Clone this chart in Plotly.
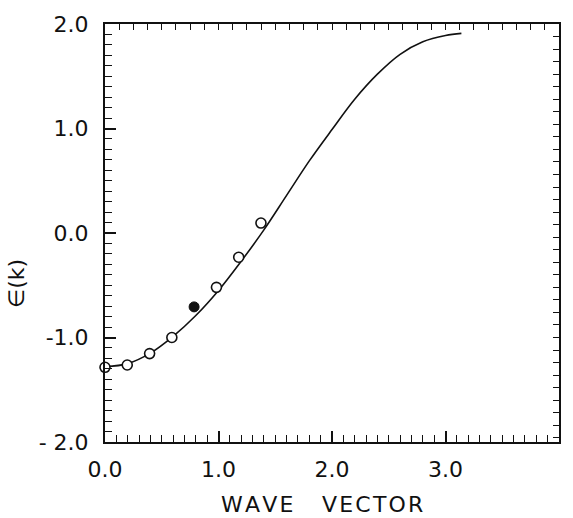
import plotly.graph_objects as go

# Data
curve_k = [0.0, 0.2, 0.4, 0.6, 0.8, 1.0, 1.2, 1.4, 1.6, 1.8, 2.0, 2.2, 2.4, 2.6, 2.8, 3.0, 3.14]
curve_e = [-1.28, -1.25, -1.15, -0.99, -0.79, -0.55, -0.27, 0.03, 0.36, 0.69, 0.99, 1.28, 1.52, 1.71, 1.83, 1.89, 1.91]

open_k = [0.0, 0.196, 0.393, 0.589, 0.982, 1.178, 1.374]
open_e = [-1.285, -1.263, -1.154, -1.0, -0.52, -0.232, 0.095]

filled_k = [0.785]
filled_e = [-0.707]

x_tickvals = [0, 1, 2, 3, 4]
x_ticktext = ["0.0", "1.0", "2.0", "3.0", "4.0"]
y_tickvals = [-2, -1, 0, 1, 2]
y_ticktext = ["- 2.0", "-1.0", "0.0", "1.0", "2.0"]

INK = "#111111"
FONT = "DejaVu Sans"

fig = go.Figure()
fig.add_trace(go.Scatter(x=curve_k, y=curve_e, mode="lines",
                         line=dict(color=INK, width=1.6, shape="spline", smoothing=1.0),
                         showlegend=False, hoverinfo="skip"))
fig.add_trace(go.Scatter(x=open_k, y=open_e, mode="markers",
                         marker=dict(symbol="circle", size=10, color="white",
                                     line=dict(color=INK, width=1.6)),
                         cliponaxis=False, showlegend=False))
fig.add_trace(go.Scatter(x=filled_k, y=filled_e, mode="markers",
                         marker=dict(symbol="circle", size=10, color=INK,
                                     line=dict(color=INK, width=1)),
                         cliponaxis=False, showlegend=False))
# dummy trace to activate top/right tick axes
fig.add_trace(go.Scatter(x=[None], y=[None], xaxis="x2", yaxis="y2",
                         showlegend=False, hoverinfo="skip"))

fig.update_layout(
    width=573, height=518,
    margin=dict(l=105, r=14, t=15, b=76),
    paper_bgcolor="white", plot_bgcolor="white",
    font=dict(family=FONT, color=INK, size=22),
    xaxis=dict(range=[0, 4], showgrid=False, zeroline=False,
               showline=True, linecolor=INK, linewidth=2, mirror=True,
               ticks="inside", ticklen=11, tickwidth=1.6, tickcolor=INK,
               tickvals=x_tickvals, ticktext=x_ticktext,
               tickfont=dict(size=22, family=FONT), ticklabelstandoff=7,
               minor=dict(dtick=0.1, ticks="inside", ticklen=7, tickwidth=1.4,
                          tickcolor=INK, showgrid=False)),
    yaxis=dict(range=[-2, 2], showgrid=False, zeroline=False,
               showline=True, linecolor=INK, linewidth=2, mirror=True,
               ticks="inside", ticklen=11, tickwidth=1.6, tickcolor=INK,
               tickvals=y_tickvals, ticktext=y_ticktext,
               tickfont=dict(size=22, family=FONT), ticklabelstandoff=10,
               minor=dict(dtick=0.1, ticks="inside", ticklen=7, tickwidth=1.4,
                          tickcolor=INK, showgrid=False)),
    xaxis2=dict(range=[0, 4], overlaying="x", side="top", showgrid=False,
                zeroline=False, showline=False, showticklabels=False,
                ticks="inside", ticklen=6, tickwidth=1.4, tickcolor=INK,
                tick0=0, dtick=0.125),
    yaxis2=dict(range=[-2, 2], overlaying="y", side="right", showgrid=False,
                zeroline=False, showline=False, showticklabels=False,
                ticks="inside", ticklen=6, tickwidth=1.4, tickcolor=INK,
                tick0=2, dtick=0.12),
    annotations=[
        dict(text="W\u200aA\u200aV\u200aE",
             xref="paper", yref="paper", x=(256.5 - 105) / 454, y=-0.15,
             xanchor="center", yanchor="middle", showarrow=False,
             font=dict(size=22, family=FONT, color=INK)),
        dict(text="V\u200aE\u200aC\u200aT\u200aO\u200aR",
             xref="paper", yref="paper", x=(372.5 - 105) / 454, y=-0.15,
             xanchor="center", yanchor="middle", showarrow=False,
             font=dict(size=22, family=FONT, color=INK)),
        dict(text="\u2208(k)", xref="paper", yref="paper",
             x=-0.195, y=(442 - 280) / 427, textangle=-90,
             xanchor="center", yanchor="middle", showarrow=False,
             font=dict(size=22, family=FONT, color=INK)),
    ],
)

fig.write_html("out.html")
